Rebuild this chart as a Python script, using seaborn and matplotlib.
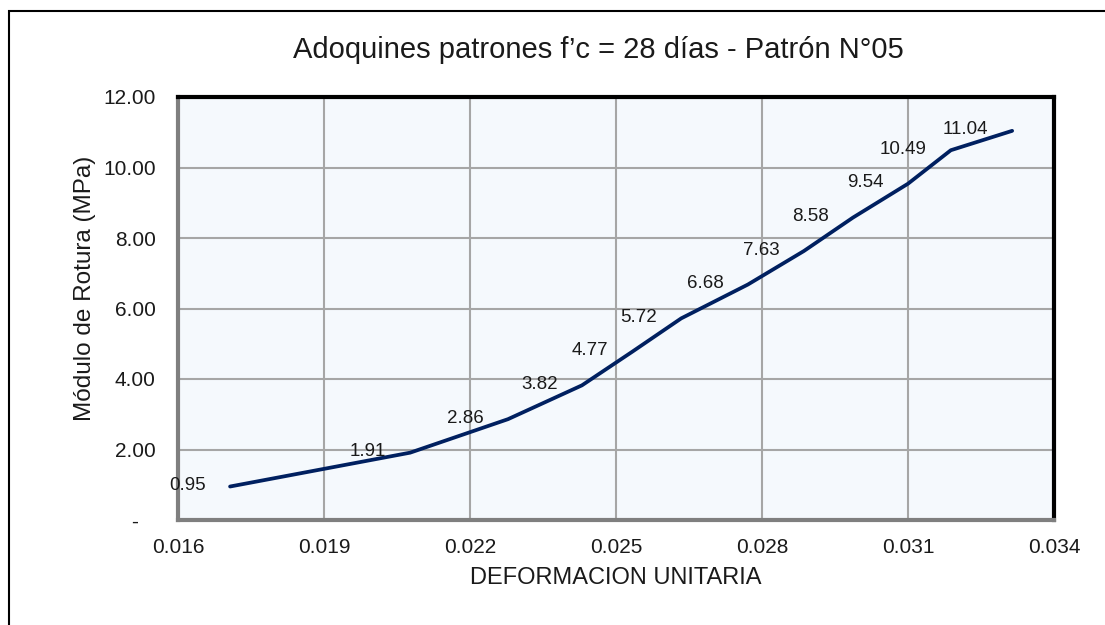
import matplotlib
matplotlib.use("Agg")
import matplotlib.pyplot as plt
import matplotlib.patches as patches
from matplotlib.ticker import FuncFormatter
import pandas as pd
import seaborn as sns

# values
deformacion = [0.01707, 0.02077, 0.02278, 0.02430, 0.02533, 0.02634,
               0.02771, 0.02886, 0.02987, 0.03100, 0.03188, 0.03314]
modulo = [0.95, 1.91, 2.86, 3.82, 4.77, 5.72, 6.68, 7.63, 8.58, 9.54, 10.49, 11.04]
x_ticks = [0.016, 0.019, 0.022, 0.025, 0.028, 0.031, 0.034]
y_ticks = [0, 2, 4, 6, 8, 10, 12]


def plot_curve(df: pd.DataFrame) -> None:
    sns.set_theme(style="white")
    plt.rcParams['font.family'] = ['Liberation Sans', 'DejaVu Sans']

    fig = plt.figure(figsize=(11.05, 6.25), dpi=100)
    ax = fig.add_axes([178 / 1105, 1 - 520 / 625, (1054 - 178) / 1105, (520 - 97) / 625])
    ax.set_facecolor('#F5F9FD')

    sns.lineplot(data=df, x='deformacion', y='modulo', color='#002060',
                 linewidth=2.7, estimator=None, sort=False, ax=ax, zorder=3)

    # data labels, placed to the left of each point
    for xv, yv in zip(df['deformacion'], df['modulo']):
        ax.annotate(f"{yv:.2f}", (xv, yv), xytext=(-24, 1), textcoords='offset pixels',
                    ha='right', va='center', fontsize=13.5, color='#1a1a1a', zorder=4)

    ax.set_xlim(x_ticks[0], x_ticks[-1])
    ax.set_ylim(y_ticks[0], y_ticks[-1])
    ax.set_xticks(x_ticks)
    ax.set_yticks(y_ticks)
    ax.xaxis.set_major_formatter(FuncFormatter(lambda v, p: f"{v:.3f}"))
    # accounting style: zero shown as a dash set in from the right
    ax.yaxis.set_major_formatter(FuncFormatter(lambda v, p: "-   " if abs(v) < 1e-9 else f"{v:.2f}"))
    ax.tick_params(axis='both', labelsize=15, length=0, colors='#1a1a1a')
    ax.tick_params(axis='x', pad=13)
    ax.tick_params(axis='y', pad=16)

    ax.grid(True, color='#A6A6A6', linewidth=1.5)
    ax.set_axisbelow(True)

    for side in ['top', 'right']:
        ax.spines[side].set_color('black')
        ax.spines[side].set_linewidth(3)
    for side in ['left', 'bottom']:
        ax.spines[side].set_color('#7F7F7F')
        ax.spines[side].set_linewidth(3)

    ax.set_xlabel('')
    ax.set_ylabel('')
    fig.text(616 / 1105, 1 - 578 / 625, 'DEFORMACION UNITARIA',
             ha='center', va='center', fontsize=17, color='#1a1a1a')
    fig.text(85 / 1105, 1 - 288 / 625, 'Módulo de Rotura (MPa)', rotation=90,
             ha='center', va='center', fontsize=17.5, color='#1a1a1a')
    fig.text(598 / 1105, 1 - 50 / 625, 'Adoquines patrones f’c = 28 días - Patrón N°05',
             ha='center', va='center', fontsize=21, color='#1a1a1a')

    # outer chart border (right and bottom edges lie outside the picture)
    fig.patches.append(patches.Rectangle((9 / 1105, -0.2), 1.2, 1.2 - 11 / 625,
                                         transform=fig.transFigure, fill=False,
                                         edgecolor='black', linewidth=1.5))

    fig.savefig('out.png', dpi=100, facecolor='white')


def main() -> None:
    df = pd.DataFrame({'deformacion': deformacion, 'modulo': modulo})
    plot_curve(df)


if __name__ == '__main__':
    main()
